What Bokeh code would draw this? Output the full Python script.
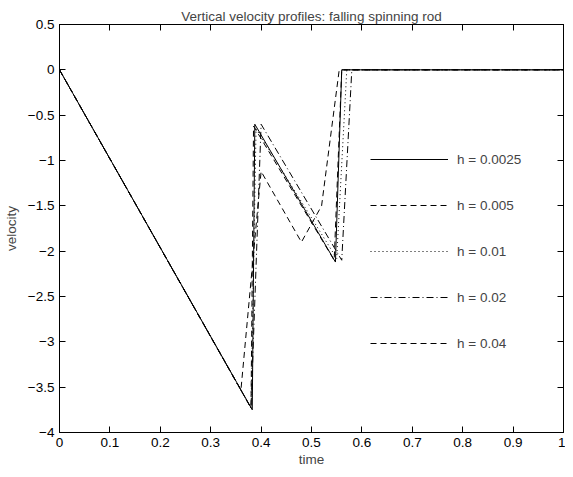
from bokeh.plotting import figure
from bokeh.models import (LinearAxis, FixedTicker, Legend, LegendItem,
                          CustomJSTickFormatter, Range1d)
from bokeh.embed import file_html
from bokeh.resources import INLINE

# ---- text ----
title_text = "Vertical velocity profiles: falling spinning rod"
x_label = "time"
y_label = "velocity"

# ---- ticks ----
xticks = [0, 0.1, 0.2, 0.3, 0.4, 0.5, 0.6, 0.7, 0.8, 0.9, 1]
xtick_labels = ["0", "0.1", "0.2", "0.3", "0.4", "0.5", "0.6", "0.7", "0.8", "0.9", "1"]
yticks = [0.5, 0, -0.5, -1, -1.5, -2, -2.5, -3, -3.5, -4]
ytick_labels = ["0.5", "0", "\u22120.5", "\u22121", "\u22121.5", "\u22122",
                "\u22122.5", "\u22123", "\u22123.5", "\u22124"]

# ---- data ----
labels = ["h = 0.0025", "h = 0.005", "h = 0.01", "h = 0.02", "h = 0.04"]

t_h0025 = [0, 0.3825, 0.3875, 0.5475, 0.5600, 1.0]
v_h0025 = [0, -3.75, -0.60, -2.12, 0, 0]

t_h005 = [0, 0.380, 0.385, 0.545, 0.560, 1.0]
v_h005 = [0, -3.73, -0.62, -2.10, 0, 0]

t_h01 = [0, 0.38, 0.39, 0.55, 0.57, 1.0]
v_h01 = [0, -3.73, -0.65, -2.08, 0, 0]

t_h02 = [0, 0.38, 0.40, 0.56, 0.58, 1.0]
v_h02 = [0, -3.73, -0.60, -2.10, 0, 0]

t_h04 = [0, 0.36, 0.40, 0.48, 0.52, 0.555, 1.0]
v_h04 = [0, -3.53, -1.12, -1.90, -1.50, 0, 0]

series_t = [t_h0025, t_h005, t_h01, t_h02, t_h04]
series_v = [v_h0025, v_h005, v_h01, v_h02, v_h04]
dashes = ["solid", "6 4", "1 3", "7 3 1 3", "6 4"]

FONT = "Liberation Sans"
FS = "13.5px"

p = figure(width=565, height=469, output_backend="svg", toolbar_location=None,
           x_range=Range1d(0, 1), y_range=Range1d(-4, 0.5),
           min_border_left=46, min_border_right=2, min_border_top=24,
           min_border_bottom=37, title=title_text)

p.title.align = "center"
p.title.text_font = FONT
p.title.text_font_size = FS
p.title.text_font_style = "normal"
p.title.standoff = 2

p.grid.visible = False
p.outline_line_color = "black"
p.outline_line_width = 1
p.background_fill_color = "white"
p.border_fill_color = "white"

xl = {t: s for t, s in zip(xticks, xtick_labels)}
yl = {t: s for t, s in zip(yticks, ytick_labels)}

ax_x = p.xaxis[0]
ax_y = p.yaxis[0]
ax_x.ticker = FixedTicker(ticks=xticks)
ax_x.major_label_overrides = xl
ax_x.axis_label = x_label
ax_y.ticker = FixedTicker(ticks=yticks)
ax_y.major_label_overrides = yl
ax_y.axis_label = y_label

for ax in (ax_x, ax_y):
    ax.major_tick_in = 6
    ax.major_tick_out = 0
    ax.minor_tick_in = 0
    ax.minor_tick_out = 0
    ax.major_label_text_font = FONT
    ax.major_label_text_font_size = FS
    ax.major_label_text_color = "black"
    ax.axis_label_text_font = FONT
    ax.axis_label_text_font_size = FS
    ax.axis_label_text_font_style = "normal"
    ax.axis_line_color = "black"
    ax.major_tick_line_color = "black"
ax_x.major_label_standoff = 5
ax_x.axis_label_standoff = 2
ax_y.major_label_standoff = 5
ax_y.axis_label_standoff = 6

blank = CustomJSTickFormatter(code="return ''")
top = LinearAxis(ticker=FixedTicker(ticks=xticks), formatter=blank,
                 major_tick_in=6, major_tick_out=0, minor_tick_in=0, minor_tick_out=0,
                 major_label_standoff=0, axis_label_standoff=0,
                 major_label_text_font_size="1px")
right = LinearAxis(ticker=FixedTicker(ticks=yticks), formatter=blank,
                   major_tick_in=6, major_tick_out=0, minor_tick_in=0, minor_tick_out=0,
                   major_label_standoff=0, axis_label_standoff=0,
                   major_label_text_font_size="1px")
p.add_layout(top, "above")
p.add_layout(right, "right")

items = []
for lab, ts, vs, d in zip(labels, series_t, series_v, dashes):
    r = p.line(ts, vs, line_color="black", line_width=1, line_dash=d)
    items.append(LegendItem(label=lab, renderers=[r]))

legend = Legend(items=items, location=(311, 79), glyph_width=78, glyph_height=20,
                label_height=20, label_standoff=9, spacing=26, padding=0, margin=0,
                border_line_color=None, background_fill_alpha=0,
                label_text_font=FONT, label_text_font_size=FS)
p.add_layout(legend, "center")

open("out.html", "w").write(file_html(p, INLINE))
